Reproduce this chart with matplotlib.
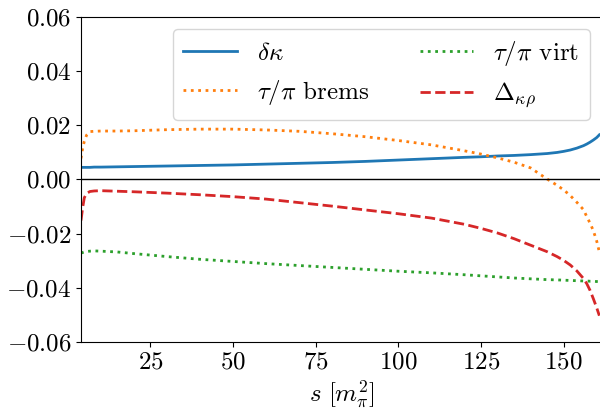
import numpy as np
import matplotlib
matplotlib.use('Agg')
import matplotlib.pyplot as plt

# s in units of m_pi^2
s = [4, 4.5, 5, 5.7, 6.7, 8, 10, 15, 20, 30, 40, 50, 60, 70, 80, 90, 100,
     110, 120, 125, 130, 135, 140, 145, 148, 150, 152, 154, 156, 157, 158,
     159, 160, 160.8]

delta_kappa = [0.0044, 0.0044, 0.0044, 0.0044, 0.0044, 0.0045, 0.0045, 0.0046,
               0.0047, 0.0049, 0.0051, 0.0053, 0.0056, 0.0059, 0.0062, 0.0066,
               0.0071, 0.0076, 0.0081, 0.0083, 0.0086, 0.0088, 0.0091, 0.0095,
               0.0099, 0.0103, 0.0108, 0.0115, 0.0124, 0.0130, 0.0137, 0.0145,
               0.0154, 0.0164]

brems = [0.0077, 0.0115, 0.0140, 0.0163, 0.0176, 0.0177, 0.0178, 0.0178,
         0.0179, 0.0183, 0.0185, 0.0185, 0.0182, 0.0177, 0.0168, 0.0157,
         0.0143, 0.0127, 0.0105, 0.0093, 0.0079, 0.0063, 0.0042, 0.0001,
         -0.0022, -0.0039, -0.0060, -0.0085, -0.0112, -0.0138, -0.0162,
         -0.0190, -0.0228, -0.0268]

virt = [-0.0272, -0.0270, -0.0268, -0.0266, -0.0265, -0.0264, -0.0265, -0.0268,
        -0.0274, -0.0285, -0.0295, -0.0303, -0.0311, -0.0318, -0.0325, -0.0332,
        -0.0339, -0.0345, -0.0352, -0.0356, -0.0360, -0.0364, -0.0367, -0.0370,
        -0.0371, -0.0372, -0.0373, -0.0374, -0.0375, -0.0375, -0.0376, -0.0376,
        -0.0377, -0.0378]

delta_krho = [-0.0152, -0.0105, -0.0068, -0.0052, -0.0045, -0.0043, -0.0042,
              -0.0044, -0.0046, -0.0051, -0.0057, -0.0064, -0.0073, -0.0086,
              -0.0099, -0.0113, -0.0127, -0.0143, -0.0166, -0.0181, -0.0198,
              -0.0219, -0.0243, -0.0267, -0.0285, -0.0299, -0.0316, -0.0338,
              -0.0366, -0.0385, -0.0410, -0.0441, -0.0474, -0.0503]

plt.rcParams.update({
    'font.family': 'serif',
    'font.serif': ['cmr10'],
    'mathtext.fontset': 'cm',
    'axes.formatter.use_mathtext': True,
    'font.size': 18,
    'axes.unicode_minus': True,
})

fig = plt.figure(figsize=(6, 4.11), dpi=100)
ax = fig.add_axes([81 / 600, 69 / 411, 521 / 600, 325.4 / 411])

ax.plot(s, delta_kappa, '-', color='C0', lw=2, label=r'$\delta\kappa$')
ax.plot(s, brems, ':', color='C1', lw=2, label=r'$\tau/\pi$ brems')
ax.plot(s, virt, ':', color='C2', lw=2, label=r'$\tau/\pi$ virt')
ax.plot(s, delta_krho, '--', color='C3', lw=2, label=r'$\Delta_{\kappa\rho}$')
ax.axhline(0, color='k', lw=1)

ax.set_xlim(4, 161.6)
ax.set_ylim(-0.06, 0.06)
ax.set_xticks([25, 50, 75, 100, 125, 150])
ax.set_yticks(np.arange(-0.06, 0.061, 0.02))
ax.spines['right'].set_visible(False)
ax.set_xlabel(r'$s\ [m_\pi^2]$', labelpad=3)
ax.legend(loc='upper right', ncol=2, handlelength=2.15)

fig.savefig('out.png', dpi=100)
